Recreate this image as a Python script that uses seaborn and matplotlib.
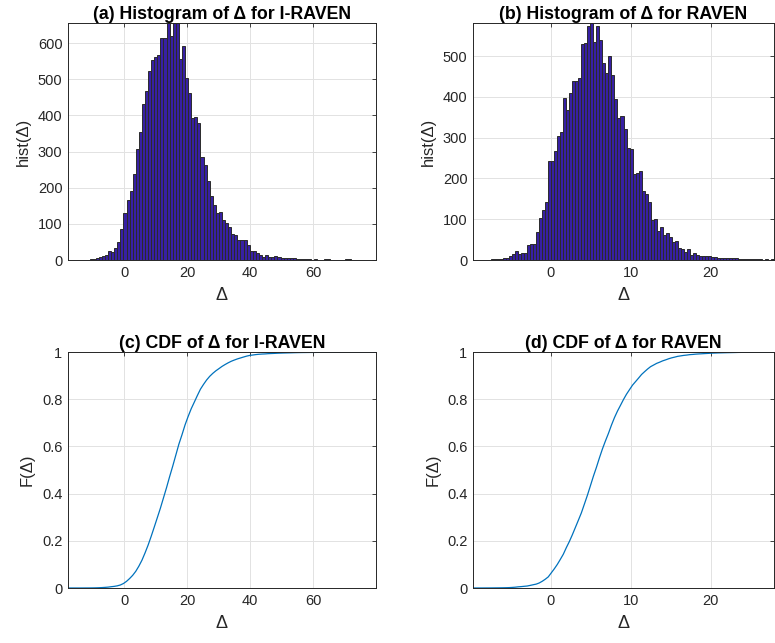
import numpy as np
import pandas as pd
import seaborn as sns
import matplotlib.pyplot as plt

# histogram counts (100 bins each)
iraven_counts = [1, 0, 0, 0, 1, 1, 1, 2, 4, 6,
                 9, 12, 15, 24, 21, 32, 51, 87,
                 130, 167, 192, 239, 306, 353, 433, 468, 524, 554, 563, 567,
                 615, 615, 656, 621, 656, 656, 556, 591, 503, 462, 393, 397, 378, 286, 262, 218, 177, 153, 130,
                 133, 112, 103, 92, 73, 68, 56, 56, 54, 42, 25, 25, 19, 13, 8, 15, 8, 8,
                 10, 7, 6, 5, 5, 6, 5, 4, 3, 2, 2, 2, 1, 2, 1, 1, 2, 3, 1, 1, 1, 1, 1, 2, 3, 1, 1, 0, 1, 1, 0, 1, 1]
raven_counts = [1, 1, 0, 1, 1, 1, 2, 2, 2, 3, 4,
                6, 10, 14, 22, 14, 18, 18, 37, 40, 38,
                69, 102, 123, 143, 242, 243, 266, 303, 314, 398, 367, 410, 439, 440, 446,
                529, 533, 574, 581, 535, 574, 540, 484, 458, 499, 453, 395, 348, 353, 320, 275, 272,
                212, 213, 219, 168, 162, 143, 98, 100, 72, 80, 61, 66, 56, 43, 47, 29, 28, 20, 26, 13, 18,
                12, 11, 11, 10, 11, 8, 7, 6, 5, 5, 4, 4, 4, 5, 3, 3, 3, 2, 3, 2, 2, 2, 1, 2, 1, 2]
iraven_range = (-17.87, 79.9)
raven_range = (-9.72, 27.88)
iraven_xticks = [0, 20, 40, 60]
raven_xticks = [0, 10, 20]
iraven_yticks = [0, 100, 200, 300, 400, 500, 600]
raven_yticks = [0, 100, 200, 300, 400, 500]
cdf_yticks = [0, 0.2, 0.4, 0.6, 0.8, 1]
titles = ["(a) Histogram of Δ for I-RAVEN", "(b) Histogram of Δ for RAVEN",
          "(c) CDF of Δ for I-RAVEN", "(d) CDF of Δ for RAVEN"]

sns.set_theme(style="whitegrid")
plt.rcParams['font.family'] = ['Liberation Sans', 'DejaVu Sans']

W, H = 775, 643
fig = plt.figure(figsize=(W / 100, H / 100), dpi=100)


def make_axes(left, top, right, bottom):
    return fig.add_axes([left / W, 1 - bottom / H, (right - left) / W, (bottom - top) / H])


def style(ax, xlim, xticks, ylim, yticks, title, ylabel):
    ax.set_xlim(*xlim)
    ax.set_ylim(*ylim)
    ax.set_xticks(xticks)
    ax.set_yticks(yticks)
    ax.set_yticklabels([f"{t:g}" for t in yticks])
    ax.grid(True, color='#e2e2e2', linewidth=0.7)
    ax.set_axisbelow(True)
    for s in ax.spines.values():
        s.set_visible(True)
        s.set_color('#262626')
        s.set_linewidth(0.7)
    ax.tick_params(direction='in', top=True, right=True, length=3, width=0.6,
                   colors='#262626', labelsize=10.5, pad=4)
    ax.set_title(title, fontsize=12.8, fontweight='bold', pad=3, color='black')
    ax.set_xlabel('Δ', fontsize=13, color='#262626', labelpad=5)
    ax.set_ylabel(ylabel, fontsize=12, color='#262626', labelpad=5)


def hist_panel(ax, counts, rng):
    edges = np.linspace(rng[0], rng[1], len(counts) + 1)
    df = pd.DataFrame({'x': (edges[:-1] + edges[1:]) / 2, 'n': counts})
    sns.histplot(data=df, x='x', weights='n', bins=len(counts), binrange=rng, ax=ax,
                 color='#3720a3', edgecolor='#2b2b2b', linewidth=0.7, alpha=1)


def cdf_panel(ax, counts, rng):
    edges = np.linspace(rng[0], rng[1], len(counts) + 1)
    c = np.concatenate([[0], np.cumsum(counts)]) / np.sum(counts)
    sns.lineplot(x=edges, y=c, ax=ax, color='#0072BD', linewidth=0.9)


ax_a = make_axes(68, 23, 376, 260)
hist_panel(ax_a, iraven_counts, iraven_range)
style(ax_a, iraven_range, iraven_xticks, (0, max(iraven_counts)), iraven_yticks, titles[0], 'hist(Δ)')

ax_b = make_axes(473, 23, 774, 260)
hist_panel(ax_b, raven_counts, raven_range)
style(ax_b, raven_range, raven_xticks, (0, max(raven_counts)), raven_yticks, titles[1], 'hist(Δ)')

ax_c = make_axes(68, 352, 376, 588)
cdf_panel(ax_c, iraven_counts, iraven_range)
style(ax_c, iraven_range, iraven_xticks, (0, 1), cdf_yticks, titles[2], 'F(Δ)')

ax_d = make_axes(473, 352, 774, 588)
cdf_panel(ax_d, raven_counts, raven_range)
style(ax_d, raven_range, raven_xticks, (0, 1), cdf_yticks, titles[3], 'F(Δ)')

fig.savefig('out.png', dpi=100, facecolor='white')
